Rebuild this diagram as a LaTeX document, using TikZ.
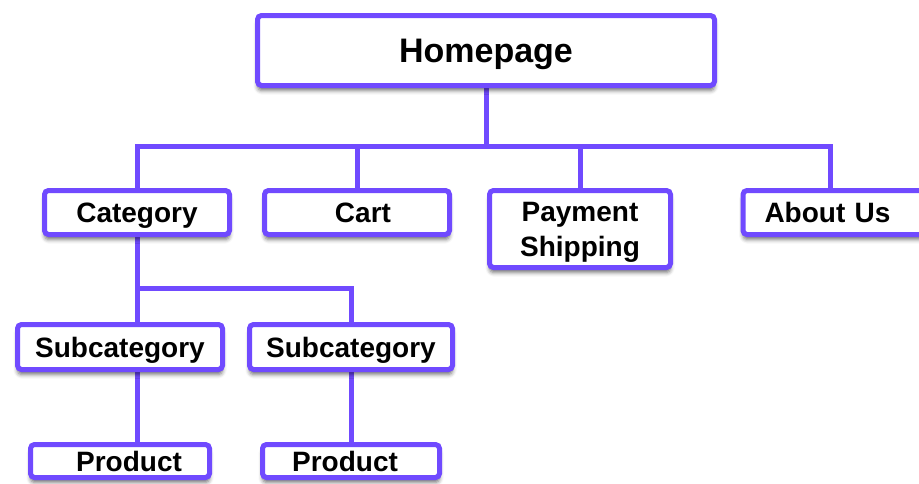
\documentclass[tikz,border=0pt]{standalone}
\usepackage{fontspec}
\setmainfont{Liberation Sans}
\usetikzlibrary{shadows.blur,backgrounds,calc}
\definecolor{edge}{RGB}{112,74,255}

\tikzset{
  pagebox/.style={draw=edge, line width=5pt, fill=white, rounded corners=4pt,
    inner sep=0pt, text depth=0pt, font=\bfseries\fontsize{28}{35}\selectfont, align=center,
    blur shadow={shadow xshift=0pt, shadow yshift=-5pt, shadow blur radius=4pt,
      shadow opacity=55}},
  wire/.style={draw=edge, line width=5pt, line join=miter, line cap=rect}
}

\begin{document}
\begin{tikzpicture}[x=1pt, y=-1pt]
  \useasboundingbox (0,0) rectangle (919,483);

  % top level
  \node[pagebox, minimum width=457pt, minimum height=70pt,
        font=\bfseries\fontsize{34}{40}\selectfont] (home) at (486,50.5) {Homepage};

  % main sections
  \node[pagebox, minimum width=185pt, minimum height=44pt] (cat) at (137,212.5) {Category};
  \node[pagebox, minimum width=185pt, minimum height=44pt] (cart) at (357,212.5) {\hspace*{12pt}Cart};
  \node[pagebox, minimum width=181pt, minimum height=77pt] (pay) at (580,229) {Payment\\Shipping};
  \node[pagebox, anchor=west, minimum height=44pt, text width=170pt, align=left,
        inner xsep=21.5pt] (about) at (740.5,212.5) {About Us};

  % subcategories
  \node[pagebox, minimum width=205pt, minimum height=45pt] (sub1) at (120,347) {Subcategory};
  \node[pagebox, minimum width=203pt, minimum height=45pt] (sub2) at (351,347) {Subcategory};

  % products
  \node[pagebox, minimum width=179pt, minimum height=33pt] (prod1) at (120,461) {\hspace*{18pt}Product};
  \node[pagebox, minimum width=177pt, minimum height=33pt] (prod2) at (351,461) {Product\hspace*{12pt}};

  % junction points of the connector bars
  \coordinate (bus1) at (0,146.5);
  \coordinate (aboutjoin) at (830,146.5);
  \coordinate (bus2) at (0,288);

  \begin{scope}[on background layer]
    \draw[wire] (home.south) -- (home.south |- bus1);
    \draw[wire] (cat.north) |- (aboutjoin) -- (aboutjoin |- about.north);
    \draw[wire] (cart.north) -- (cart.north |- bus1);
    \draw[wire] (pay.north) -- (pay.north |- bus1);

    \draw[wire] (cat.south) -- (cat.south |- sub1.north);
    \draw[wire] (cat.south |- bus2) -| (sub2.north);
    \draw[wire] (cat.south |- sub1.south) -- (cat.south |- prod1.north);
    \draw[wire] (sub2.south) -- (prod2.north);
  \end{scope}
\end{tikzpicture}
\end{document}
